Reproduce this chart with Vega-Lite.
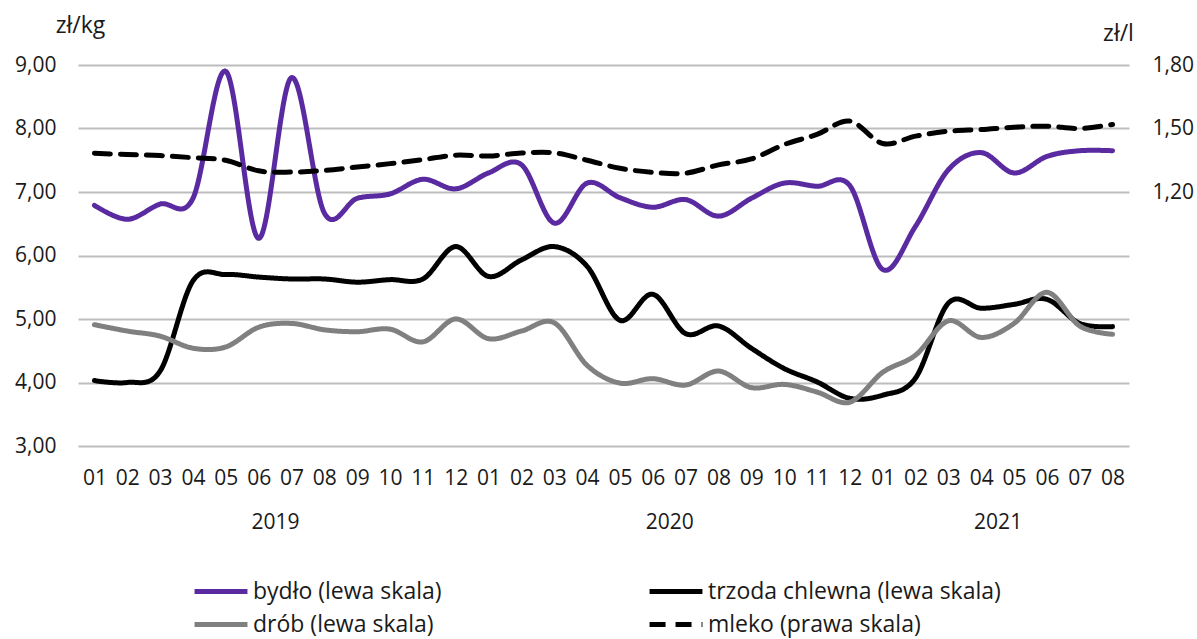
{
  "$schema": "https://vega.github.io/schema/vega-lite/v6.json",
  "width": 1051,
  "height": 381,
  "autosize": {"type": "none"},
  "padding": {"left": 78, "top": 65, "right": 68, "bottom": 193},
  "background": "white",
  "config": {
    "font": "Open Sans",
    "view": {"stroke": null},
    "axis": {"labelFont": "Open Sans", "titleFont": "Open Sans", "labelColor": "#1a1a1a", "titleColor": "#1a1a1a"},
    "legend": {"labelFont": "Open Sans", "labelColor": "#1a1a1a"}
  },
  "data": {
    "values": [
      {"i": 0, "bydło (lewa skala)": 6.79, "trzoda chlewna (lewa skala)": 4.03, "drób (lewa skala)": 4.91, "mleko (prawa skala)": 1.383},
      {"i": 1, "bydło (lewa skala)": 6.57, "trzoda chlewna (lewa skala)": 4.00, "drób (lewa skala)": 4.81, "mleko (prawa skala)": 1.377},
      {"i": 2, "bydło (lewa skala)": 6.81, "trzoda chlewna (lewa skala)": 4.18, "drób (lewa skala)": 4.73, "mleko (prawa skala)": 1.372},
      {"i": 3, "bydło (lewa skala)": 6.90, "trzoda chlewna (lewa skala)": 5.60, "drób (lewa skala)": 4.54, "mleko (prawa skala)": 1.362},
      {"i": 4, "bydło (lewa skala)": 8.90, "trzoda chlewna (lewa skala)": 5.70, "drób (lewa skala)": 4.56, "mleko (prawa skala)": 1.350},
      {"i": 5, "bydło (lewa skala)": 6.27, "trzoda chlewna (lewa skala)": 5.66, "drób (lewa skala)": 4.87, "mleko (prawa skala)": 1.300},
      {"i": 6, "bydło (lewa skala)": 8.80, "trzoda chlewna (lewa skala)": 5.63, "drób (lewa skala)": 4.93, "mleko (prawa skala)": 1.294},
      {"i": 7, "bydło (lewa skala)": 6.67, "trzoda chlewna (lewa skala)": 5.63, "drób (lewa skala)": 4.83, "mleko (prawa skala)": 1.302},
      {"i": 8, "bydło (lewa skala)": 6.90, "trzoda chlewna (lewa skala)": 5.58, "drób (lewa skala)": 4.80, "mleko (prawa skala)": 1.318},
      {"i": 9, "bydło (lewa skala)": 6.97, "trzoda chlewna (lewa skala)": 5.62, "drób (lewa skala)": 4.84, "mleko (prawa skala)": 1.334},
      {"i": 10, "bydło (lewa skala)": 7.20, "trzoda chlewna (lewa skala)": 5.63, "drób (lewa skala)": 4.64, "mleko (prawa skala)": 1.353},
      {"i": 11, "bydło (lewa skala)": 7.05, "trzoda chlewna (lewa skala)": 6.14, "drób (lewa skala)": 5.00, "mleko (prawa skala)": 1.374},
      {"i": 12, "bydło (lewa skala)": 7.30, "trzoda chlewna (lewa skala)": 5.67, "drób (lewa skala)": 4.69, "mleko (prawa skala)": 1.370},
      {"i": 13, "bydło (lewa skala)": 7.43, "trzoda chlewna (lewa skala)": 5.93, "drób (lewa skala)": 4.81, "mleko (prawa skala)": 1.384},
      {"i": 14, "bydło (lewa skala)": 6.51, "trzoda chlewna (lewa skala)": 6.14, "drób (lewa skala)": 4.94, "mleko (prawa skala)": 1.385},
      {"i": 15, "bydło (lewa skala)": 7.14, "trzoda chlewna (lewa skala)": 5.83, "drób (lewa skala)": 4.27, "mleko (prawa skala)": 1.350},
      {"i": 16, "bydło (lewa skala)": 6.91, "trzoda chlewna (lewa skala)": 4.98, "drób (lewa skala)": 3.99, "mleko (prawa skala)": 1.312},
      {"i": 17, "bydło (lewa skala)": 6.76, "trzoda chlewna (lewa skala)": 5.39, "drób (lewa skala)": 4.06, "mleko (prawa skala)": 1.293},
      {"i": 18, "bydło (lewa skala)": 6.88, "trzoda chlewna (lewa skala)": 4.77, "drób (lewa skala)": 3.96, "mleko (prawa skala)": 1.289},
      {"i": 19, "bydło (lewa skala)": 6.62, "trzoda chlewna (lewa skala)": 4.89, "drób (lewa skala)": 4.18, "mleko (prawa skala)": 1.328},
      {"i": 20, "bydło (lewa skala)": 6.90, "trzoda chlewna (lewa skala)": 4.54, "drób (lewa skala)": 3.92, "mleko (prawa skala)": 1.356},
      {"i": 21, "bydło (lewa skala)": 7.14, "trzoda chlewna (lewa skala)": 4.22, "drób (lewa skala)": 3.97, "mleko (prawa skala)": 1.424},
      {"i": 22, "bydło (lewa skala)": 7.09, "trzoda chlewna (lewa skala)": 4.01, "drób (lewa skala)": 3.85, "mleko (prawa skala)": 1.472},
      {"i": 23, "bydło (lewa skala)": 7.10, "trzoda chlewna (lewa skala)": 3.75, "drób (lewa skala)": 3.69, "mleko (prawa skala)": 1.535},
      {"i": 24, "bydło (lewa skala)": 5.78, "trzoda chlewna (lewa skala)": 3.80, "drób (lewa skala)": 4.16, "mleko (prawa skala)": 1.429},
      {"i": 25, "bydło (lewa skala)": 6.46, "trzoda chlewna (lewa skala)": 4.07, "drób (lewa skala)": 4.43, "mleko (prawa skala)": 1.464},
      {"i": 26, "bydło (lewa skala)": 7.35, "trzoda chlewna (lewa skala)": 5.25, "drób (lewa skala)": 4.97, "mleko (prawa skala)": 1.487},
      {"i": 27, "bydło (lewa skala)": 7.62, "trzoda chlewna (lewa skala)": 5.17, "drób (lewa skala)": 4.71, "mleko (prawa skala)": 1.495},
      {"i": 28, "bydło (lewa skala)": 7.30, "trzoda chlewna (lewa skala)": 5.23, "drób (lewa skala)": 4.93, "mleko (prawa skala)": 1.506},
      {"i": 29, "bydło (lewa skala)": 7.56, "trzoda chlewna (lewa skala)": 5.31, "drób (lewa skala)": 5.42, "mleko (prawa skala)": 1.511},
      {"i": 30, "bydło (lewa skala)": 7.65, "trzoda chlewna (lewa skala)": 4.93, "drób (lewa skala)": 4.89, "mleko (prawa skala)": 1.500},
      {"i": 31, "bydło (lewa skala)": 7.65, "trzoda chlewna (lewa skala)": 4.88, "drób (lewa skala)": 4.76, "mleko (prawa skala)": 1.519}
    ]
  },
  "transform": [
    {"fold": ["bydło (lewa skala)", "trzoda chlewna (lewa skala)", "drób (lewa skala)", "mleko (prawa skala)"], "as": ["seria", "wartosc"]}
  ],
  "layer": [
    {
      "transform": [{"filter": "datum.seria !== 'mleko (prawa skala)'"}],
      "mark": {"type": "line", "interpolate": "cardinal", "strokeWidth": 5, "strokeCap": "round", "strokeJoin": "round"},
      "encoding": {
        "x": {
          "field": "i", "type": "quantitative",
          "scale": {"domain": [-0.5, 31.5], "nice": false, "zero": false},
          "axis": {
            "orient": "bottom",
            "title": null, "grid": false, "domain": false, "ticks": false,
            "values": [0,1,2,3,4,5,6,7,8,9,10,11,12,13,14,15,16,17,18,19,20,21,22,23,24,25,26,27,28,29,30,31],
            "labelExpr": "((datum.value % 12) + 1 < 10 ? '0' : '') + ((datum.value % 12) + 1)",
            "labelFontSize": 21, "labelPadding": 21, "labelOverlap": false, "labelFlush": false
          }
        },
        "y": {
          "field": "wartosc", "type": "quantitative",
          "scale": {"domain": [3, 9], "nice": false, "zero": false},
          "axis": {
            "title": "zł/kg", "titleAngle": 0, "titleX": 2, "titleY": -40, "titleAlign": "center", "titleBaseline": "middle",
            "titleFontSize": 23, "titleFontWeight": "normal",
            "values": [3,4,5,6,7,8,9],
            "labelExpr": "replace(format(datum.value, '.2f'), '.', ',')",
            "labelFontSize": 21, "labelPadding": 22,
            "domain": false, "ticks": false,
            "grid": true, "gridColor": "#bdbdbd", "gridWidth": 2
          }
        },
        "color": {
          "field": "seria", "type": "nominal",
          "scale": {"domain": ["bydło (lewa skala)", "drób (lewa skala)", "trzoda chlewna (lewa skala)", "mleko (prawa skala)"], "range": ["#5a2aa0", "#808080", "#000000", "#000000"]},
          "legend": {
            "title": null, "orient": "none", "legendX": 114, "legendY": 514, "columns": 2, "columnPadding": 101, "rowPadding": 8, "gridAlign": "all", "clipHeight": 25,
            "symbolType": "stroke", "symbolSize": 2800, "symbolStrokeWidth": 5, "labelFontSize": 23, "labelOffset": 3, "padding": 0,
            "labelLimit": 400
          }
        },
        "strokeDash": {
          "field": "seria", "type": "nominal",
          "scale": {"domain": ["bydło (lewa skala)", "drób (lewa skala)", "trzoda chlewna (lewa skala)", "mleko (prawa skala)"], "range": [[1, 0], [1, 0], [1, 0], [16, 10]]},
          "legend": {
            "title": null, "orient": "none", "legendX": 114, "legendY": 514, "columns": 2, "columnPadding": 101, "rowPadding": 8, "gridAlign": "all", "clipHeight": 25,
            "symbolType": "stroke", "symbolSize": 2800, "symbolStrokeWidth": 5, "labelFontSize": 23, "labelOffset": 3, "padding": 0,
            "labelLimit": 400
          }
        }
      }
    },
    {
      "transform": [{"filter": "datum.seria === 'mleko (prawa skala)'"}],
      "mark": {"type": "line", "interpolate": "cardinal", "strokeWidth": 5, "strokeCap": "round", "strokeJoin": "round"},
      "encoding": {
        "x": {
          "field": "i", "type": "quantitative",
          "axis": {
            "orient": "bottom",
            "title": null, "grid": false, "domain": false, "ticks": false,
            "values": [5.5, 17.5, 27.5],
            "labelExpr": "datum.value < 12 ? '2019' : (datum.value < 24 ? '2020' : '2021')",
            "labelFontSize": 21, "labelPadding": 65, "labelOverlap": false, "labelFlush": false
          }
        },
        "y": {
          "field": "wartosc", "type": "quantitative",
          "scale": {"domain": [0, 1.8], "nice": false, "zero": false},
          "axis": {
            "orient": "right",
            "title": "zł/l", "titleAngle": 0, "titleX": -11, "titleY": -32, "titleAlign": "center", "titleBaseline": "middle",
            "titleFontSize": 23, "titleFontWeight": "normal",
            "values": [1.2, 1.5, 1.8],
            "labelExpr": "replace(format(datum.value, '.2f'), '.', ',')",
            "labelFontSize": 21, "labelPadding": 23,
            "domain": false, "ticks": false, "grid": false
          }
        },
        "color": {
          "field": "seria", "type": "nominal",
          "scale": {"domain": ["bydło (lewa skala)", "drób (lewa skala)", "trzoda chlewna (lewa skala)", "mleko (prawa skala)"], "range": ["#5a2aa0", "#808080", "#000000", "#000000"]}
        },
        "strokeDash": {
          "field": "seria", "type": "nominal",
          "scale": {"domain": ["bydło (lewa skala)", "drób (lewa skala)", "trzoda chlewna (lewa skala)", "mleko (prawa skala)"], "range": [[1, 0], [1, 0], [1, 0], [16, 10]]}
        }
      }
    }
  ],
  "resolve": {"scale": {"y": "independent"}, "axis": {"x": "independent", "y": "independent"}}
}
